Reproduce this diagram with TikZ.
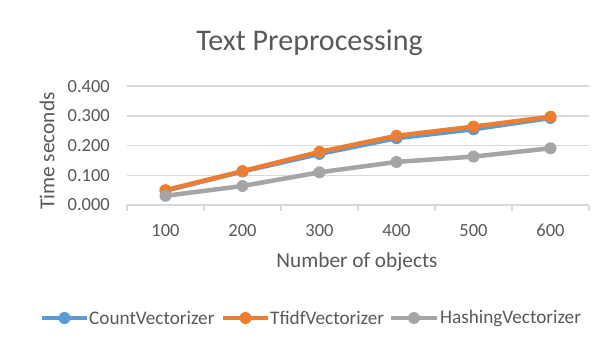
\documentclass[tikz,border=0pt]{standalone}
\usepackage{fontspec}
\setmainfont{Carlito}
\definecolor{cvblue}{HTML}{5B9BD5}
\definecolor{tforange}{HTML}{ED7D31}
\definecolor{hvgray}{HTML}{A5A5A5}
\definecolor{gridgray}{HTML}{D9D9D9}
\definecolor{labelgray}{HTML}{595959}
\tikzset{
  gridline/.style={draw=gridgray, line width=1.5pt},
  ticklabel/.style={text=labelgray, font=\fontsize{18.5}{20}\selectfont, inner sep=0pt},
  axistitle/.style={text=labelgray, font=\fontsize{21.3}{23}\selectfont, inner sep=0pt},
  legendtext/.style={text=labelgray, font=\fontsize{19.2}{21}\selectfont, inner sep=0pt, anchor=west},
  series/.style={line width=4.5pt, line join=round, line cap=round},
  dot/.style={circle, fill=#1, inner sep=0pt, minimum size=12pt}
}
\begin{document}
\begin{tikzpicture}[x=1pt,y=-1pt]
\useasboundingbox[fill=white] (0,0) rectangle (603,343);

% title
\node[text=labelgray, font=\fontsize{30}{32}\selectfont, inner sep=0pt] (title) at (309.5,43) {Text Preprocessing};

% value gridlines with their labels
\foreach \v/\lab [count=\k] in {0/0.000,0.1/0.100,0.2/0.200,0.3/0.300,0.4/0.400}{
  \coordinate (gl\k) at (127,{205-297*\v});
  \coordinate (gr\k) at (589,{205-297*\v});
  \node[ticklabel, anchor=east] (yl\k) at (110,{205-297*\v}) {\lab};
}
\foreach \k in {2,...,5}{ \draw[gridline] (gl\k) -- (gr\k); }
% category axis with tick marks
\draw[gridline] (gl1) -- (gr1);
\foreach \i in {0,...,6}{
  \coordinate (tk\i) at ({127+77*\i},205);
  \coordinate (tb\i) at ({127+77*\i},211);
  \draw[gridline] (tk\i) -- (tb\i);
}
\foreach \c [count=\i] in {100,200,300,400,500,600}{
  \node[ticklabel] (xl\i) at ({88.5+77*\i},230.5) {\c};
}

% axis titles
\node[axistitle] (xtitle) at (357,262) {Number of objects};
\node[axistitle, rotate=90] (ytitle) at (47,151) {Time seconds};

% data points
\foreach \a/\b/\c [count=\i] in {0.048/0.050/0.031, 0.113/0.114/0.064, 0.172/0.179/0.110,
                                  0.225/0.233/0.145, 0.255/0.264/0.163, 0.293/0.297/0.191}{
  \coordinate (cv\i) at ({88.5+77*\i},{205-297*\a});
  \coordinate (tf\i) at ({88.5+77*\i},{205-297*\b});
  \coordinate (hv\i) at ({88.5+77*\i},{205-297*\c});
}

% CountVectorizer
\draw[series, cvblue] (cv1) -- (cv2) -- (cv3) -- (cv4) -- (cv5) -- (cv6);
\foreach \i in {1,...,6}{ \node[dot=cvblue] (cvm\i) at (cv\i) {}; }
% TfidfVectorizer
\draw[series, tforange] (tf1) -- (tf2) -- (tf3) -- (tf4) -- (tf5) -- (tf6);
\foreach \i in {1,...,6}{ \node[dot=tforange] (tfm\i) at (tf\i) {}; }
% HashingVectorizer
\draw[series, hvgray] (hv1) -- (hv2) -- (hv3) -- (hv4) -- (hv5) -- (hv6);
\foreach \i in {1,...,6}{ \node[dot=hvgray] (hvm\i) at (hv\i) {}; }

% legend
\coordinate (lga) at (42,318);  \coordinate (lgb) at (87,318);
\draw[series, line cap=butt, cvblue] (lga) -- (lgb);
\node[dot=cvblue] (lgm1) at (64.5,318) {};
\node[legendtext] (lgt1) at (89,318) {CountVectorizer};
\coordinate (lgc) at (223,318); \coordinate (lgd) at (268,318);
\draw[series, line cap=butt, tforange] (lgc) -- (lgd);
\node[dot=tforange] (lgm2) at (245.5,318) {};
\node[legendtext] (lgt2) at (270,318) {TfidfVectorizer};
\coordinate (lge) at (391,318); \coordinate (lgf) at (437,318);
\draw[series, line cap=butt, hvgray] (lge) -- (lgf);
\node[dot=hvgray] (lgm3) at (414,318) {};
\node[legendtext] (lgt3) at (440,318) {HashingVectorizer};
\end{tikzpicture}
\end{document}
